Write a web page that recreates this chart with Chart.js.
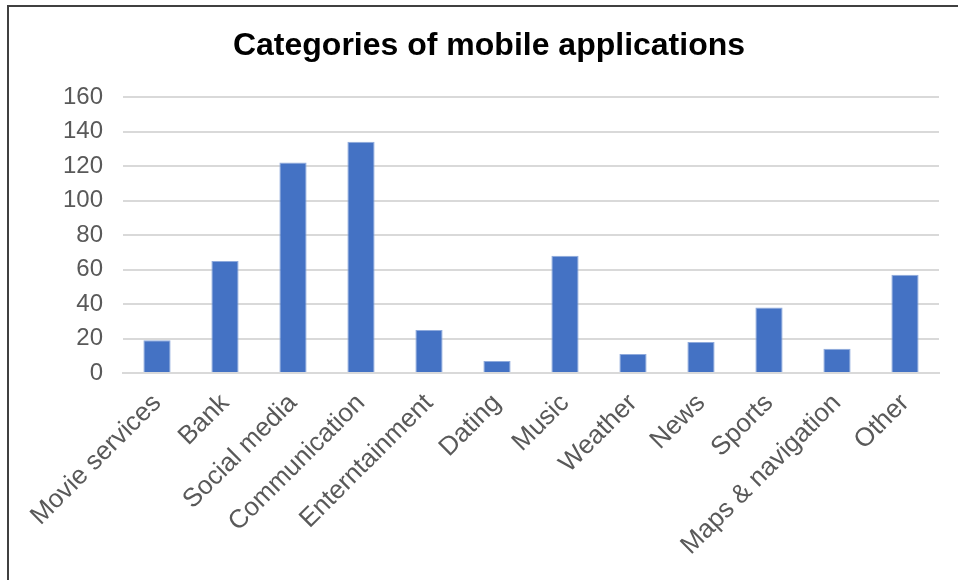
<!DOCTYPE html>
<html>
<head>
<meta charset="utf-8">
<script src="https://cdn.jsdelivr.net/npm/chart.js@4/dist/chart.umd.min.js"></script>
<style>
  html, body { margin: 0; padding: 0; background: #fff; overflow: hidden; }
  #wrap { position: relative; width: 958px; height: 580px; }
  #frame {
    position: absolute; left: 7px; top: 5px; width: 1000px; height: 700px;
    border: 2px solid #404040; box-sizing: border-box;
  }
  #chart { position: absolute; left: 0; top: 0; }
</style>
</head>
<body>
<div id="wrap">
  <div id="frame"></div>
  <canvas id="chart" width="958" height="580"></canvas>
</div>
<script>
const categories = ['Movie services', 'Bank', 'Social media', 'Communication', 'Enterntainment',
  'Dating', 'Music', 'Weather', 'News', 'Sports', 'Maps & navigation', 'Other'];
const counts = [19, 65, 122, 134, 25, 7, 68, 11, 18, 38, 14, 57];
const yTicks = [0, 20, 40, 60, 80, 100, 120, 140, 160];

const FONT = '"Liberation Sans", Arial, sans-serif';

new Chart(document.getElementById('chart'), {
  type: 'bar',
  data: {
    labels: categories,
    datasets: [{
      label: 'Apps',
      data: counts,
      backgroundColor: '#4472C4',
      borderColor: '#8FAADC',
      borderWidth: 1,
      barPercentage: 0.4,
      categoryPercentage: 1.0
    }]
  },
  options: {
    responsive: false,
    animation: false,
    // left/right padding also keeps the title centred inside the frame
    layout: { padding: { left: 39, right: 19, top: 0, bottom: 0 } },
    plugins: {
      legend: { display: false },
      tooltip: { enabled: false },
      title: {
        display: true,
        text: 'Categories of mobile applications',
        color: '#000',
        font: { family: FONT, size: 32, weight: 'bold' },
        padding: { top: 27, bottom: 31.6 }
      }
    },
    scales: {
      x: {
        grid: { display: false, drawTicks: false },
        border: { display: true, color: '#d9d9d9', width: 2 },
        ticks: {
          color: '#595959',
          font: { family: FONT, size: 26 },
          minRotation: 45,
          maxRotation: 45,
          autoSkip: false,
          padding: 15
        },
        afterFit: s => { s.height = 207; }
      },
      y: {
        min: 0,
        max: 160,
        afterBuildTicks: s => { s.ticks = yTicks.map(v => ({ value: v })); },
        grid: { color: '#d9d9d9', lineWidth: 2, drawTicks: false },
        border: { display: false },
        ticks: {
          color: '#595959',
          font: { family: FONT, size: 24 },
          padding: 20
        },
        afterFit: s => { s.width = 84; }
      }
    }
  }
});
</script>
</body>
</html>
